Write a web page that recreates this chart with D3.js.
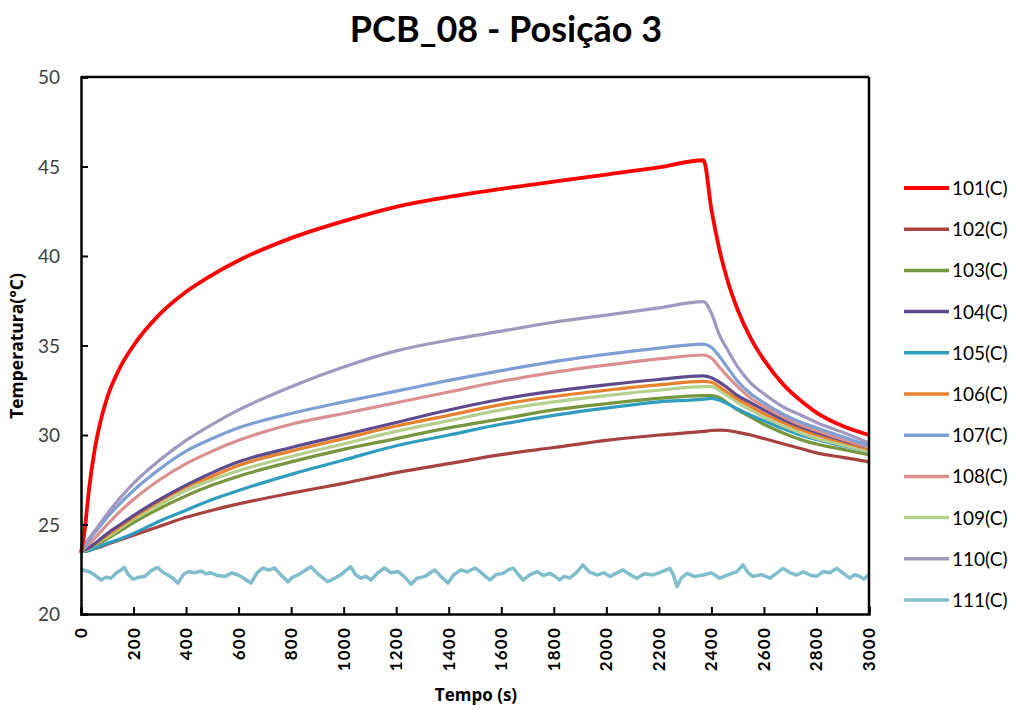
<!DOCTYPE html>
<html><head><meta charset="utf-8">
<script src="https://cdn.jsdelivr.net/npm/d3@7/dist/d3.min.js"></script>
<style>body{margin:0;background:#fff;} svg{display:block;}</style>
</head><body>
<svg id="chart" width="1019" height="710"></svg>
<script>
const heatTimes = [0,15,30,50,75,100,150,200,300,400,500,600,800,1000,1200,1400,1600,1800,2000,2200,2370];
const coolTimes = [2400,2430,2460,2500,2550,2600,2675,2750,2800,2900,3000];

const seriesNames = ["101(C)","102(C)","103(C)","104(C)","105(C)","106(C)","107(C)","108(C)","109(C)","110(C)","111(C)"];
const seriesColors = ["#FF0000","#A8423F","#77963D","#5E4A8C","#2E9DC0","#E8822E","#7E9FD3","#D9908F","#B5D08D","#A197BF","#80BECE"];

const s101 = [23.4,24.8,26.9,29.0,30.8,32.1,33.8,35.0,36.75,38.0,38.95,39.75,41.0,41.95,42.75,43.3,43.75,44.15,44.55,44.95,45.35,
              42.6,40.4,38.7,37.0,35.4,34.2,32.8,31.8,31.25,30.5,30.0];
const s102 = [23.5,23.5,23.55,23.65,23.75,23.9,24.15,24.4,24.9,25.4,25.8,26.15,26.75,27.3,27.9,28.4,28.9,29.3,29.7,30.0,30.2,
              30.25,30.27,30.25,30.15,30.0,29.8,29.5,29.2,29.0,28.75,28.5];
const s103 = [23.5,23.55,23.6,23.8,24.0,24.2,24.65,25.1,25.9,26.6,27.2,27.7,28.5,29.2,29.8,30.4,30.9,31.4,31.75,32.05,32.2,
              32.2,32.1,31.8,31.4,31.0,30.6,30.1,29.7,29.5,29.2,28.9];
const s104 = [23.5,23.6,23.7,23.9,24.2,24.5,25.0,25.5,26.4,27.2,27.9,28.5,29.3,30.0,30.7,31.4,32.0,32.45,32.8,33.1,33.3,
              33.2,32.95,32.65,32.2,31.8,31.4,30.85,30.4,30.15,29.7,29.3];
const s105 = [23.5,23.5,23.55,23.65,23.8,23.95,24.2,24.5,25.2,25.8,26.4,26.9,27.8,28.6,29.4,30.0,30.6,31.1,31.5,31.85,32.0,
              32.05,31.95,31.75,31.45,31.1,30.8,30.35,29.95,29.75,29.4,29.1];
const s106 = [23.5,23.6,23.7,23.9,24.15,24.4,24.9,25.4,26.3,27.1,27.7,28.3,29.1,29.8,30.5,31.1,31.7,32.15,32.5,32.8,33.0,
              32.95,32.7,32.4,32.0,31.6,31.2,30.7,30.25,30.0,29.6,29.2];
const s107 = [23.5,23.8,24.1,24.5,24.95,25.4,26.2,26.9,28.1,29.1,29.8,30.4,31.2,31.85,32.45,33.05,33.6,34.1,34.5,34.85,35.08,
              34.9,34.4,33.8,33.0,32.3,31.8,31.15,30.65,30.4,29.9,29.4];
const s108 = [23.5,23.7,23.9,24.2,24.6,25.0,25.75,26.4,27.5,28.4,29.1,29.7,30.6,31.2,31.8,32.4,33.0,33.5,33.9,34.25,34.47,
              34.3,33.8,33.3,32.7,32.05,31.6,31.0,30.5,30.25,29.75,29.3];
const s109 = [23.5,23.55,23.65,23.85,24.1,24.3,24.8,25.3,26.1,26.9,27.5,28.0,28.8,29.5,30.2,30.8,31.4,31.85,32.2,32.5,32.7,
              32.7,32.5,32.2,31.8,31.4,31.0,30.5,30.05,29.8,29.45,29.1];
const s110 = [23.5,23.9,24.2,24.6,25.1,25.6,26.5,27.3,28.6,29.7,30.6,31.4,32.7,33.8,34.7,35.3,35.8,36.3,36.7,37.1,37.45,
              36.8,35.6,34.8,33.8,32.9,32.3,31.55,31.05,30.7,30.15,29.55];

const ambTimes = [0,8,30,50,77,95,114,135,152,165,180,197,220,243,270,293,310,331,350,369,390,407,430,457,475,495,520,548,575,598,
  620,647,670,692,715,737,760,788,805,826,850,875,905,940,965,990,1010,1027,1045,1065,1085,1104,1130,1156,1180,1207,1230,1256,1280,1309,
  1330,1347,1370,1397,1420,1447,1470,1500,1519,1540,1557,1580,1607,1625,1645,1665,1683,1710,1736,1760,1785,1805,1823,1840,1861,1885,1911,1935,1964,1990,
  2014,2040,2064,2090,2116,2145,2178,2210,2242,2255,2269,2285,2307,2335,2368,2400,2432,2465,2497,2520,2540,2558,2590,2623,2650,2673,2700,2725,2750,2775,
  2800,2825,2850,2878,2900,2927,2945,2965,2980,3000];
const s111 = [22.4,22.46,22.37,22.2,21.9,22.05,22.0,22.3,22.46,22.6,22.2,21.95,22.05,22.1,22.45,22.6,22.35,22.18,22.0,21.73,22.2,22.37,22.3,22.4,22.25,22.3,22.15,22.1,22.3,22.18,
  22.0,21.73,22.3,22.57,22.45,22.57,22.2,21.8,22.05,22.18,22.4,22.64,22.2,21.8,22.0,22.2,22.45,22.64,22.2,22.0,22.1,21.9,22.3,22.57,22.3,22.37,22.1,21.67,22.0,22.1,
  22.3,22.46,22.1,21.73,22.2,22.46,22.35,22.57,22.37,22.1,21.9,22.2,22.27,22.45,22.57,22.2,21.9,22.2,22.37,22.15,22.27,22.1,21.9,22.1,22.0,22.3,22.74,22.35,22.18,22.3,
  22.1,22.3,22.46,22.2,22.0,22.25,22.18,22.35,22.55,22.2,21.53,22.0,22.27,22.1,22.18,22.3,22.0,22.2,22.37,22.74,22.3,22.1,22.2,22.0,22.3,22.55,22.3,22.18,22.35,22.18,
  22.1,22.37,22.3,22.55,22.3,22.0,22.2,22.1,21.95,22.2];

const xTicks = d3.range(0, 3001, 200);
const yTicks = [20,25,30,35,40,45,50];

const seriesValues = [s101,s102,s103,s104,s105,s106,s107,s108,s109,s110];
const allTimes = heatTimes.concat(coolTimes);

const svg = d3.select("#chart");
const FONT = "Lato, 'Open Sans', sans-serif";
const x = d3.scaleLinear().domain([0,3000]).range([81,869]);
const y = d3.scaleLinear().domain([20,50]).range([614,77]);

// title
svg.append("text").attr("x",506).attr("y",42).attr("text-anchor","middle")
  .attr("font-family",FONT).attr("font-weight","bold").attr("font-size",36).attr("fill","#000")
  .text("PCB_08 - Posição 3");

// series lines
const line = d3.line().x(d=>x(d[0])).y(d=>y(d[1])).curve(d3.curveMonotoneX);
const plot = svg.append("g");
plot.append("path").datum(ambTimes.map((t,i)=>[t,s111[i]]))
  .attr("fill","none").attr("stroke",seriesColors[10]).attr("stroke-width",3.5)
  .attr("stroke-linejoin","round").attr("d", d3.line().x(d=>x(d[0])).y(d=>y(d[1])));
const order = [1,2,4,8,5,3,7,6,9,0];
order.forEach(i=>{
  const vals = seriesValues[i];
  plot.append("path").datum(allTimes.map((t,k)=>[t,vals[k]]))
    .attr("fill","none").attr("stroke",seriesColors[i]).attr("stroke-width", i===0?3.8:3.2)
    .attr("stroke-linejoin","round").attr("d",line);
});

// axes box
const axG = svg.append("g");
axG.append("g").attr("transform","translate(0,614)")
  .call(d3.axisBottom(x).tickValues(xTicks).tickSize(-7).tickFormat(""))
  .call(g=>{g.select(".domain").attr("stroke","#000").attr("stroke-width",2.5);
            g.selectAll(".tick line").attr("stroke","#000").attr("stroke-width",2);});
axG.append("g").attr("transform","translate(81,0)")
  .call(d3.axisLeft(y).tickValues(yTicks).tickSize(-7).tickFormat(""))
  .call(g=>{g.select(".domain").attr("stroke","#000").attr("stroke-width",2.5);
            g.selectAll(".tick line").attr("stroke","#000").attr("stroke-width",2);});
axG.append("line").attr("x1",81).attr("x2",869).attr("y1",77).attr("y2",77).attr("stroke","#000").attr("stroke-width",2.5);
axG.append("line").attr("x1",869).attr("x2",869).attr("y1",77).attr("y2",614).attr("stroke","#000").attr("stroke-width",2.5);

// y tick labels
svg.append("g").selectAll("text").data(yTicks).join("text")
  .attr("x",60).attr("y",d=>y(d)+7).attr("text-anchor","end")
  .attr("font-family",FONT).attr("font-size",19).attr("fill","#404040").text(d=>d);

// x tick labels rotated
svg.append("g").selectAll("text").data(xTicks).join("text")
  .attr("transform",d=>`translate(${x(d)+6},627) rotate(-90)`).attr("text-anchor","end")
  .attr("font-family",FONT).attr("font-weight","bold").attr("font-size",17).attr("letter-spacing",1.2)
  .attr("fill","#000").text(d=>d);

// axis titles
svg.append("text").attr("transform","translate(23,346) rotate(-90)").attr("text-anchor","middle")
  .attr("font-family","'Open Sans', sans-serif").attr("font-weight","bold").attr("font-size",17.5).attr("fill","#000").text("Temperatura(°C)");
svg.append("text").attr("x",476).attr("y",701).attr("text-anchor","middle")
  .attr("font-family","'Open Sans', sans-serif").attr("font-weight","bold").attr("font-size",17).attr("fill","#000").text("Tempo (s)");

// legend
const leg = svg.append("g").selectAll("g").data(seriesNames).join("g")
  .attr("transform",(d,i)=>`translate(0,${188 + i*41.2})`);
leg.append("line").attr("x1",904).attr("x2",949).attr("y1",0).attr("y2",0)
  .attr("stroke",(d,i)=>seriesColors[i]).attr("stroke-width",(d,i)=>i===0?4:3.5);
leg.append("text").attr("x",952).attr("y",7).attr("font-family",FONT).attr("font-size",19).attr("fill","#000").text(d=>d);
</script>
</body></html>
